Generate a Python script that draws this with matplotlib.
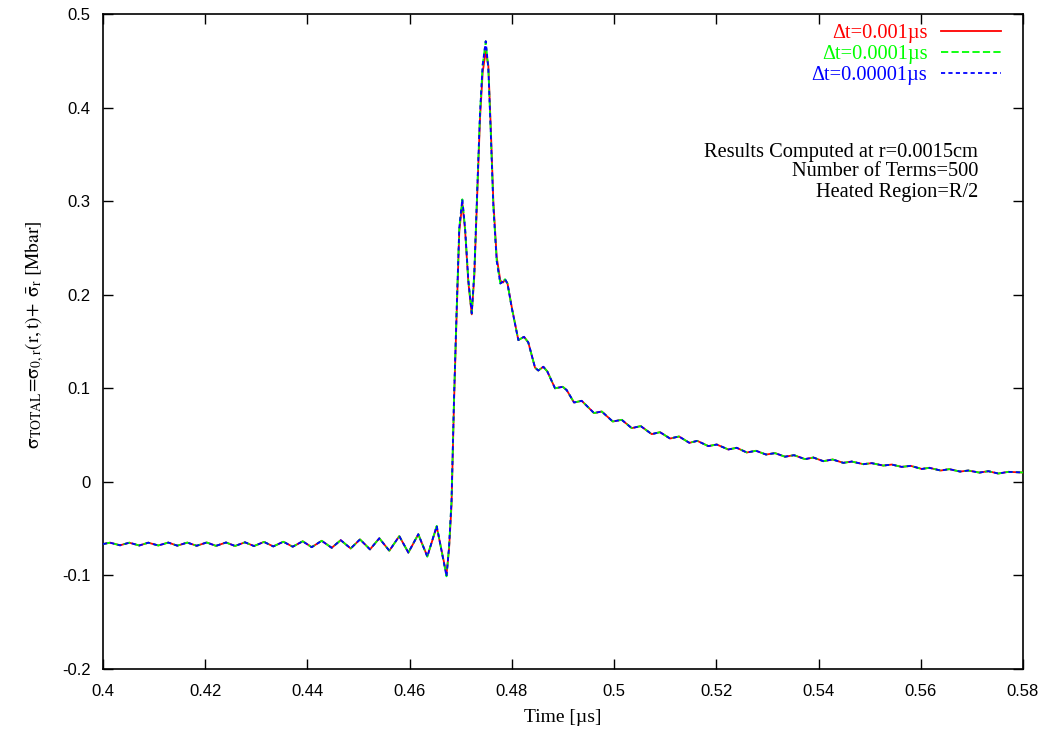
import matplotlib
matplotlib.use('Agg')
import matplotlib.pyplot as plt

plt.rcParams['axes.unicode_minus'] = False
plt.rcParams['mathtext.fontset'] = 'stix'

# ── Dados ──────────────────────────────────────────────────────────────────────
time_us = [
    0.40000, 0.40137, 0.40333, 0.40515, 0.40710, 0.40886, 0.41082, 0.41278,
    0.41454, 0.41649, 0.41833, 0.42029, 0.42211, 0.42407, 0.42583, 0.42778,
    0.42954, 0.43150, 0.43332, 0.43528, 0.43712, 0.43907, 0.44083, 0.44279,
    0.44475, 0.44651, 0.44846, 0.45028, 0.45224, 0.45406, 0.45602, 0.45797,
    0.45974, 0.46169, 0.46345, 0.46529, 0.46721, 0.46770, 0.46819, 0.46868,
    0.46917, 0.46971, 0.47030, 0.47083, 0.47147, 0.47214, 0.47265, 0.47324,
    0.47376, 0.47429, 0.47488, 0.47539, 0.47586, 0.47637, 0.47703, 0.47774,
    0.47826, 0.47866, 0.47914, 0.47997, 0.48126, 0.48237, 0.48321, 0.48453,
    0.48517, 0.48615, 0.48693, 0.48844, 0.48995, 0.49073, 0.49216, 0.49366,
    0.49607, 0.49758, 0.49973, 0.50149, 0.50345, 0.50521, 0.50736, 0.50898,
    0.51094, 0.51270, 0.51472, 0.51628, 0.51843, 0.52008, 0.52235, 0.52399,
    0.52595, 0.52777, 0.52972, 0.53148, 0.53344, 0.53520, 0.53735, 0.53898,
    0.54093, 0.54277, 0.54485, 0.54649, 0.54876, 0.55040, 0.55267, 0.55432,
    0.55627, 0.55804, 0.56019, 0.56168, 0.56390, 0.56559, 0.56768, 0.56930,
    0.57146, 0.57322, 0.57517, 0.57713, 0.58000,
]

# dt = 0.0001 us e dt = 0.00001 us (curvas coincidentes)
sigma_fine = [
    -0.0665, -0.0650, -0.0678, -0.0650, -0.0680, -0.0650, -0.0680, -0.0649,
    -0.0682, -0.0649, -0.0683, -0.0648, -0.0684, -0.0648, -0.0685, -0.0646,
    -0.0686, -0.0642, -0.0690, -0.0640, -0.0693, -0.0635, -0.0698, -0.0630,
    -0.0705, -0.0623, -0.0712, -0.0615, -0.0722, -0.0603, -0.0736, -0.0580,
    -0.0756, -0.0559, -0.0800, -0.0470, -0.1010, -0.0700, -0.0200, 0.0900,
    0.1800, 0.2720, 0.3020, 0.2720, 0.2160, 0.1800, 0.2240, 0.3150,
    0.3940, 0.4460, 0.4710, 0.4420, 0.3740, 0.2950, 0.2360, 0.2120,
    0.2140, 0.2166, 0.2120, 0.1860, 0.1515, 0.1550, 0.1490, 0.1220,
    0.1190, 0.1230, 0.1180, 0.1000, 0.1016, 0.0980, 0.0848, 0.0866,
    0.0735, 0.0752, 0.0645, 0.0663, 0.0574, 0.0596, 0.0510, 0.0531,
    0.0463, 0.0485, 0.0417, 0.0438, 0.0382, 0.0399, 0.0346, 0.0364,
    0.0314, 0.0332, 0.0292, 0.0307, 0.0269, 0.0285, 0.0243, 0.0260,
    0.0221, 0.0239, 0.0203, 0.0217, 0.0189, 0.0200, 0.0174, 0.0185,
    0.0160, 0.0171, 0.0138, 0.0150, 0.0121, 0.0136, 0.0110, 0.0121,
    0.0099, 0.0114, 0.0089, 0.0107, 0.0100,
]

# dt = 0.001 us (pico ligeiramente mais baixo)
sigma_coarse = [
    -0.0665, -0.0650, -0.0678, -0.0650, -0.0680, -0.0650, -0.0680, -0.0649,
    -0.0682, -0.0649, -0.0683, -0.0648, -0.0684, -0.0648, -0.0685, -0.0646,
    -0.0686, -0.0642, -0.0690, -0.0640, -0.0693, -0.0635, -0.0698, -0.0630,
    -0.0705, -0.0623, -0.0712, -0.0615, -0.0722, -0.0603, -0.0736, -0.0580,
    -0.0756, -0.0562, -0.0795, -0.0480, -0.0990, -0.0720, -0.0250, 0.0850,
    0.1750, 0.2680, 0.2980, 0.2700, 0.2140, 0.1790, 0.2200, 0.3100,
    0.3880, 0.4380, 0.4600, 0.4450, 0.3800, 0.3000, 0.2400, 0.2150,
    0.2130, 0.2160, 0.2120, 0.1870, 0.1515, 0.1550, 0.1490, 0.1220,
    0.1190, 0.1230, 0.1180, 0.1000, 0.1016, 0.0980, 0.0848, 0.0866,
    0.0735, 0.0752, 0.0645, 0.0663, 0.0574, 0.0596, 0.0510, 0.0531,
    0.0463, 0.0485, 0.0417, 0.0438, 0.0382, 0.0399, 0.0346, 0.0364,
    0.0314, 0.0332, 0.0292, 0.0307, 0.0269, 0.0285, 0.0243, 0.0260,
    0.0221, 0.0239, 0.0203, 0.0217, 0.0189, 0.0200, 0.0174, 0.0185,
    0.0160, 0.0171, 0.0138, 0.0150, 0.0121, 0.0136, 0.0110, 0.0121,
    0.0099, 0.0114, 0.0089, 0.0107, 0.0100,
]

labels = ['Δt=0.001µs', 'Δt=0.0001µs', 'Δt=0.00001µs']
colors = ['#ff0000', '#00ff00', '#0000ff']

x_ticks = [0.40, 0.42, 0.44, 0.46, 0.48, 0.50, 0.52, 0.54, 0.56, 0.58]
y_ticks = [-0.2, -0.1, 0.0, 0.1, 0.2, 0.3, 0.4, 0.5]

info_lines = ['Results Computed at r=0.0015cm',
              'Number of Terms=500',
              'Heated Region=R/2']

SERIF = 'Liberation Serif'
SANS = 'Liberation Sans'

# ── Figura ────────────────────────────────────────────────────────────────────
fig = plt.figure(figsize=(10.51, 7.36), dpi=100)
ax = fig.add_axes([103 / 1051, 1 - 669 / 736, 920 / 1051, 655 / 736])

ax.plot(time_us, sigma_coarse, color=colors[0], lw=1.3, ls='-', label=labels[0], zorder=3)
ax.plot(time_us, sigma_fine, color=colors[1], lw=1.3, ls=(0, (4, 1.8)), label=labels[1], zorder=4)
ax.plot(time_us, sigma_fine, color=colors[2], lw=1.3, ls=(0, (2.3, 1.8)), label=labels[2], zorder=5)

ax.set_xlim(0.4, 0.58)
ax.set_ylim(-0.2, 0.5)
ax.set_xticks(x_ticks)
ax.set_yticks(y_ticks)
ax.set_xticklabels([f'{v:g}' for v in x_ticks])
ax.set_yticklabels([f'{v:g}' for v in y_ticks])
ax.tick_params(direction='in', length=7, width=1.0, top=True, right=True,
               labelsize=12)
ax.tick_params(axis='x', pad=11)
ax.tick_params(axis='y', pad=9)
for lbl in ax.get_xticklabels() + ax.get_yticklabels():
    lbl.set_fontfamily(SANS)
for sp in ax.spines.values():
    sp.set_linewidth(1.2)

ax.set_xlabel('Time [µs]', family=SERIF, fontsize=14)
ax.xaxis.set_label_coords(0.5, -(709 - 669) / 655)
ax.set_ylabel(r'$\mathrm{\sigma}_{\mathrm{TOTAL}}\!=\!\mathrm{\sigma}_{\mathrm{0,r}}(\mathrm{r,t})\!+\;'
              r'\bar{\mathrm{\sigma}}_{\mathrm{r}}\;[\mathrm{Mbar}]$',
              fontsize=14)
ax.yaxis.set_label_coords(-(103 - 46) / 920, (669 - 335) / 655)

# legenda no estilo gnuplot: texto colorido à direita, amostra de linha depois
leg = ax.legend(loc='upper right', bbox_to_anchor=(1001 / 1051, 1 - 24 / 736),
                bbox_transform=fig.transFigure, frameon=False, markerfirst=False,
                labelcolor='linecolor', handlelength=2.95, handletextpad=0.65,
                labelspacing=0.08, borderpad=0, borderaxespad=0,
                prop={'family': SERIF, 'size': 14.7})
for t in leg.get_texts():
    t.set_ha('right')

for k, line in enumerate(info_lines):
    fig.text(978 / 1051, 1 - (152 + 20 * k) / 736, line, family=SERIF,
             fontsize=14.7, ha='right', va='center')

fig.savefig('out.png', dpi=100)
